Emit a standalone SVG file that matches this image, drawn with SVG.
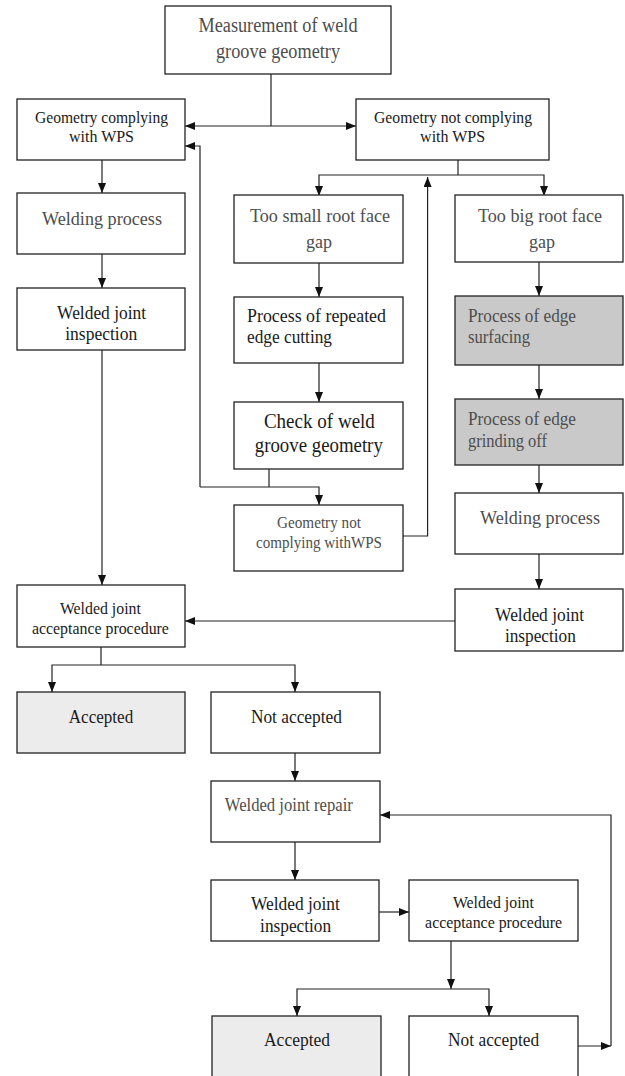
<svg xmlns="http://www.w3.org/2000/svg" width="625" height="1076" viewBox="0 0 625 1076">
<defs>
<marker id="ah" markerUnits="userSpaceOnUse" markerWidth="10" markerHeight="8" refX="10" refY="4" orient="auto-start-reverse">
<path d="M0,0 L10,4 L0,8 z" fill="#111"/>
</marker>
</defs>
<style>
rect{stroke:#222;stroke-width:1.3;fill:#fff}
rect.g{fill:#c9c9c9}
rect.l{fill:#ececec}
text{font-family:"Liberation Serif","Times New Roman",serif;text-anchor:middle}
text.s{text-anchor:start}
.dk{fill:#1a1a1a}
.gr{fill:#4d4d4d}
.f20{font-size:20px}
.f19{font-size:19px}
.f17{font-size:17px}
.f16{font-size:16.5px}
#connectors path{fill:none;stroke:#222;stroke-width:1.2}
.a{marker-end:url(#ah)}
.b{marker-start:url(#ah);marker-end:url(#ah)}
</style>
<rect x="0" y="0" width="625" height="1076" fill="#fff" style="stroke:none"/>
<g id="connectors">
<path d="M271,74 V126"/>
<path class="b" d="M185,126 H356"/>
<path d="M458,160 V175"/>
<path class="a" d="M458,175 H319 V196"/>
<path class="a" d="M458,175 H544 V196"/>
<path class="a" d="M102,160 V193"/>
<path class="a" d="M102,254 V288"/>
<path class="a" d="M102,350 V585"/>
<path class="a" d="M319,263 V297"/>
<path class="a" d="M319,363 V402"/>
<path d="M269,469 V487"/>
<path class="a" d="M200,487 H319 V505"/>
<path class="a" d="M200,487 V146 H185"/>
<path class="a" d="M403,536 H427.6 V177"/>
<path class="a" d="M539,262 V296"/>
<path class="a" d="M539,365 V399"/>
<path class="a" d="M539,465 V493"/>
<path class="a" d="M539,554 V589"/>
<path class="a" d="M455,621 H185"/>
<path d="M101,647 V665"/>
<path class="a" d="M101,665 H52 V692"/>
<path class="a" d="M101,665 H295 V692"/>
<path class="a" d="M295,753 V781"/>
<path class="a" d="M295,842 V880"/>
<path class="a" d="M379,912 H409"/>
<path class="a" d="M451,941 V989"/>
<path class="b" d="M297,1016 V989 H489 V1016"/>
<path class="a" d="M578,1046 H611"/>
<path class="a" d="M611,1046 V815 H380"/>
</g>
<g id="n_measure">
<rect x="165" y="6" width="226" height="68"/>
<text class="gr f20" x="278" y="32" textLength="159" lengthAdjust="spacingAndGlyphs">Measurement of weld</text>
<text class="gr f20" x="278" y="58" textLength="124" lengthAdjust="spacingAndGlyphs">groove geometry</text>
</g>
<g id="n_comply">
<rect x="17" y="99" width="168" height="61"/>
<text class="dk f17" x="101.5" y="123" textLength="133" lengthAdjust="spacingAndGlyphs">Geometry complying</text>
<text class="dk f17" x="101.5" y="142" textLength="65" lengthAdjust="spacingAndGlyphs">with WPS</text>
</g>
<g id="n_notcomply">
<rect x="356" y="99" width="193" height="61"/>
<text class="dk f17" x="453" y="123" textLength="158" lengthAdjust="spacingAndGlyphs">Geometry not complying</text>
<text class="dk f17" x="452.6" y="142" textLength="65" lengthAdjust="spacingAndGlyphs">with WPS</text>
</g>
<g id="n_weld1">
<rect x="17" y="193" width="168" height="61"/>
<text class="gr f19" x="102" y="225" textLength="120" lengthAdjust="spacingAndGlyphs">Welding process</text>
</g>
<g id="n_insp1">
<rect x="17" y="288" width="168" height="62"/>
<text class="dk f19" x="101.6" y="319" textLength="89" lengthAdjust="spacingAndGlyphs">Welded joint</text>
<text class="dk f19" x="101.2" y="340" textLength="72" lengthAdjust="spacingAndGlyphs">inspection</text>
</g>
<g id="n_small">
<rect x="234" y="195" width="169" height="68"/>
<text class="gr f19" x="320" y="222" textLength="140" lengthAdjust="spacingAndGlyphs">Too small root face</text>
<text class="gr f19" x="319" y="248" textLength="26" lengthAdjust="spacingAndGlyphs">gap</text>
</g>
<g id="n_big">
<rect x="455" y="195" width="168" height="67"/>
<text class="gr f19" x="540" y="222" textLength="124" lengthAdjust="spacingAndGlyphs">Too big root face</text>
<text class="gr f19" x="542" y="248" textLength="26" lengthAdjust="spacingAndGlyphs">gap</text>
</g>
<g id="n_cut">
<rect x="234" y="297" width="169" height="66"/>
<text class="dk f19 s" x="247" y="322" textLength="139" lengthAdjust="spacingAndGlyphs">Process  of repeated</text>
<text class="dk f19 s" x="247" y="343" textLength="85" lengthAdjust="spacingAndGlyphs">edge cutting</text>
</g>
<g id="n_surf">
<rect class="g" x="455" y="296" width="168" height="69"/>
<text class="gr f19 s" x="468" y="322" textLength="108" lengthAdjust="spacingAndGlyphs">Process  of edge</text>
<text class="gr f19 s" x="468" y="343" textLength="62" lengthAdjust="spacingAndGlyphs">surfacing</text>
</g>
<g id="n_check">
<rect x="234" y="402" width="169" height="67"/>
<text class="dk f20" x="319.4" y="428" textLength="111" lengthAdjust="spacingAndGlyphs">Check of weld</text>
<text class="dk f20" x="318.8" y="452" textLength="128" lengthAdjust="spacingAndGlyphs">groove geometry</text>
</g>
<g id="n_grind">
<rect class="g" x="455" y="399" width="168" height="66"/>
<text class="gr f19 s" x="468" y="425" textLength="108" lengthAdjust="spacingAndGlyphs">Process  of edge</text>
<text class="gr f19 s" x="468" y="447" textLength="79" lengthAdjust="spacingAndGlyphs">grinding off</text>
</g>
<g id="n_notcomply2">
<rect x="234" y="505" width="169" height="66"/>
<text class="gr f16" x="319" y="528" textLength="84" lengthAdjust="spacingAndGlyphs">Geometry not</text>
<text class="gr f16" x="319" y="548" textLength="126" lengthAdjust="spacingAndGlyphs">complying withWPS</text>
</g>
<g id="n_weld2">
<rect x="455" y="493" width="168" height="61"/>
<text class="gr f19" x="540" y="524" textLength="120" lengthAdjust="spacingAndGlyphs">Welding process</text>
</g>
<g id="n_insp2">
<rect x="455" y="589" width="168" height="62"/>
<text class="dk f19" x="539.6" y="621" textLength="89" lengthAdjust="spacingAndGlyphs">Welded joint</text>
<text class="dk f19" x="540.4" y="642" textLength="71" lengthAdjust="spacingAndGlyphs">inspection</text>
</g>
<g id="n_accproc1">
<rect x="17" y="585" width="168" height="62"/>
<text class="dk f17" x="100.4" y="614" textLength="81" lengthAdjust="spacingAndGlyphs">Welded joint</text>
<text class="dk f17" x="100.4" y="634" textLength="137" lengthAdjust="spacingAndGlyphs">acceptance procedure</text>
</g>
<g id="n_acc1">
<rect class="l" x="17" y="692" width="168" height="61"/>
<text class="dk f19" x="101" y="723" textLength="64.4" lengthAdjust="spacingAndGlyphs">Accepted</text>
</g>
<g id="n_nacc1">
<rect x="211" y="692" width="169" height="61"/>
<text class="dk f19" x="296.4" y="723" textLength="91" lengthAdjust="spacingAndGlyphs">Not accepted</text>
</g>
<g id="n_repair">
<rect x="211" y="781" width="169" height="61"/>
<text class="gr f19" x="288.8" y="811" textLength="128" lengthAdjust="spacingAndGlyphs">Welded joint repair</text>
</g>
<g id="n_insp3">
<rect x="211" y="880" width="168" height="61"/>
<text class="dk f19" x="295.4" y="910" textLength="89" lengthAdjust="spacingAndGlyphs">Welded joint</text>
<text class="dk f19" x="295.6" y="931.5" textLength="71" lengthAdjust="spacingAndGlyphs">inspection</text>
</g>
<g id="n_accproc2">
<rect x="409" y="880" width="169" height="61"/>
<text class="dk f17" x="493.4" y="908" textLength="81" lengthAdjust="spacingAndGlyphs">Welded joint</text>
<text class="dk f17" x="493.6" y="928" textLength="137" lengthAdjust="spacingAndGlyphs">acceptance procedure</text>
</g>
<g id="n_acc2">
<rect class="l" x="212" y="1016" width="169" height="70"/>
<text class="dk f19" x="297" y="1046" textLength="66" lengthAdjust="spacingAndGlyphs">Accepted</text>
</g>
<g id="n_nacc2">
<rect x="409" y="1016" width="169" height="70"/>
<text class="dk f19" x="493.6" y="1046" textLength="91" lengthAdjust="spacingAndGlyphs">Not accepted</text>
</g>
</svg>
